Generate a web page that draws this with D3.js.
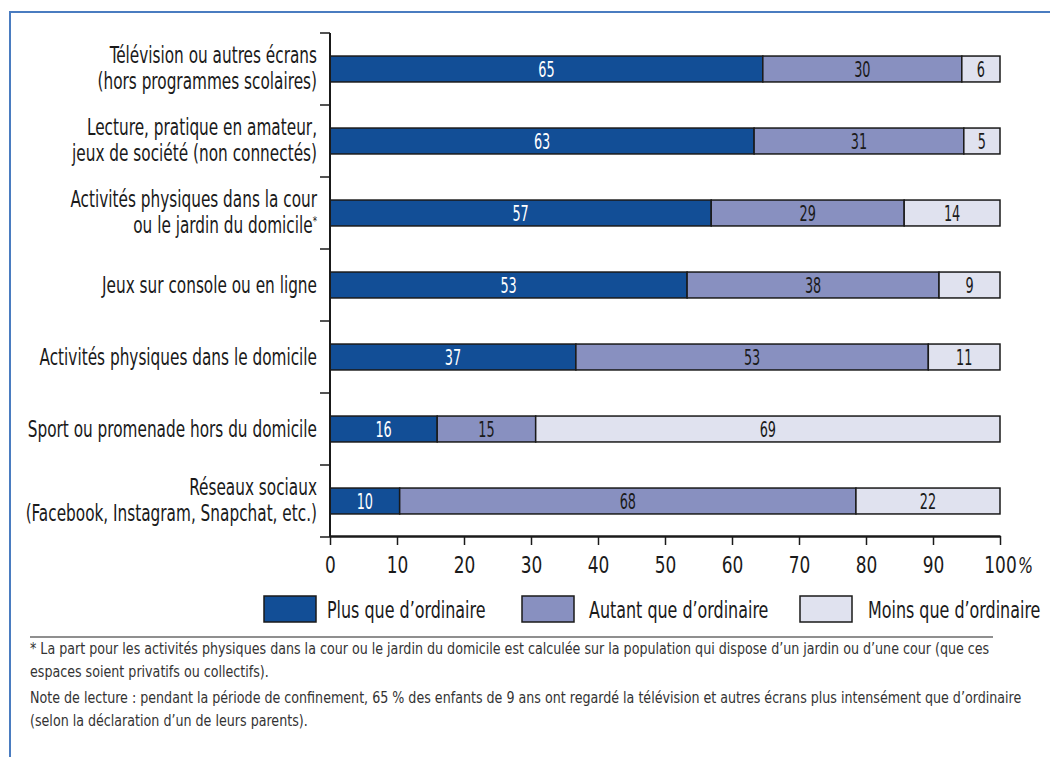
<!DOCTYPE html>
<html><head><meta charset="utf-8">
<script src="https://cdn.jsdelivr.net/npm/d3@7"></script>
<style>
body{margin:0;background:#fff;}
svg text{font-family:"DejaVu Sans Condensed","DejaVu Sans",sans-serif;}
</style></head>
<body><svg id="c" width="1050" height="757"></svg>
<script>
const categories = [
  ["Télévision ou autres écrans","(hors programmes scolaires)"],
  ["Lecture, pratique en amateur,","jeux de société (non connectés)"],
  ["Activités physiques dans la cour","ou le jardin du domicile"],
  ["Jeux sur console ou en ligne"],
  ["Activités physiques dans le domicile"],
  ["Sport ou promenade hors du domicile"],
  ["Réseaux sociaux","(Facebook, Instagram, Snapchat, etc.)"]
];
const starred = [false,false,true,false,false,false,false];
const seriesNames = ["Plus que d’ordinaire","Autant que d’ordinaire","Moins que d’ordinaire"];
const plus   = [64.6, 63.3, 56.9, 53.3, 36.7, 16.0, 10.4];
const autant = [29.7, 31.3, 28.8, 37.6, 52.6, 14.7, 68.1];
const moins  = [5.7, 5.4, 14.3, 9.1, 10.7, 69.3, 21.5];
const xTicks = [0,10,20,30,40,50,60,70,80,90,100];
const notes = [
  "* La part pour les activités physiques dans la cour ou le jardin du domicile est calculée sur la population qui dispose d’un jardin ou d’une cour (que ces",
  "espaces soient privatifs ou collectifs).",
  "Note de lecture : pendant la période de confinement, 65 % des enfants de 9 ans ont regardé la télévision et autres écrans plus intensément que d’ordinaire",
  "(selon la déclaration d’un de leurs parents)."
];
const colors = ["#124e96","#8890c0","#e0e2ef"];
const textColors = ["#ffffff","#1a1a1a","#1a1a1a"];

const svg = d3.select("#c");
// condensed text helper
function ctext(parent, x, y, sx){
  return parent.append("text").attr("transform",`translate(${x},${y}) scale(${sx},1)`);
}
// frame
svg.append("path").attr("d","M10,757 V12 H1050").attr("fill","none").attr("stroke","#4a7cc0").attr("stroke-width",2);

const x = d3.scaleLinear().domain([0,100]).range([330,1000]);
const y = d3.scaleBand().domain(d3.range(categories.length)).range([33,537]).paddingInner(0.64).paddingOuter(0.32);

const rows = categories.map((c,i)=>({i, vals:[plus[i],autant[i],moins[i]]}));
const stackData = d3.stack().keys([0,1,2]).value((d,k)=>d.vals[k])(rows);

const g = svg.append("g");
stackData.forEach((layer,k)=>{
  g.selectAll(null).data(layer).enter().append("rect")
    .attr("x",d=>x(d[0])).attr("width",d=>x(d[1])-x(d[0]))
    .attr("y",(d,i)=>y(i)).attr("height",y.bandwidth())
    .attr("fill",colors[k]).attr("stroke","#1a1a1a").attr("stroke-width",1.5);
  layer.forEach((d,i)=>{
    ctext(g,(x(d[0])+x(d[1]))/2, y(i)+y.bandwidth()/2+7.5, 0.68)
      .attr("text-anchor","middle").attr("font-size",21).attr("fill",textColors[k])
      .text(Math.round(d[1]-d[0]+1e-9));
  });
});

// y axis
const yAxisG = svg.append("g");
yAxisG.append("line").attr("x1",330).attr("x2",330).attr("y1",33).attr("y2",537).attr("stroke","#1a1a1a").attr("stroke-width",2);
d3.range(categories.length+1).forEach(j=>{
  const yy = 33 + j*y.step();
  yAxisG.append("line").attr("x1",320).attr("x2",330).attr("y1",yy).attr("y2",yy).attr("stroke","#1a1a1a").attr("stroke-width",1.5);
});
// category labels
categories.forEach((lines,i)=>{
  const cy = y(i)+y.bandwidth()/2;
  const t = ctext(svg,317,0,0.74).attr("text-anchor","end").attr("font-size",23).attr("fill","#1a1a1a");
  const offs = lines.length===1 ? [8] : [-6,20];
  lines.forEach((ln,j)=>{
    t.append("tspan").attr("x",0).attr("y",cy+offs[j]).text(ln);
    if(starred[i] && j===lines.length-1){
      t.append("tspan").attr("dy",-8).attr("font-size",13).text("*");
    }
  });
});

// x axis
const xa = svg.append("g").attr("transform","translate(0,536)")
  .call(d3.axisBottom(x).tickValues(xTicks).tickSize(9).tickSizeOuter(0).tickFormat(d=>d));
xa.select(".domain").attr("stroke","#1a1a1a").attr("stroke-width",2.5);
xa.selectAll(".tick line").attr("stroke","#1a1a1a").attr("stroke-width",1.5);
xa.selectAll(".tick text").attr("font-size",23).attr("fill","#1a1a1a").attr("dy",null).attr("y",37)
  .attr("transform","scale(0.82,1)")
  .style("font-family",'"DejaVu Sans Condensed","DejaVu Sans",sans-serif');
ctext(svg,1018,573,0.8).attr("font-size",22).attr("font-style","italic").attr("fill","#1a1a1a").text("%");

// legend
const legX = [264,522,800];
const legT = [327,589,868];
seriesNames.forEach((n,k)=>{
  svg.append("rect").attr("x",legX[k]).attr("y",596).attr("width",52).attr("height",26)
    .attr("fill",colors[k]).attr("stroke","#1a1a1a").attr("stroke-width",1.5);
  ctext(svg,legT[k],618,0.77).attr("font-size",23).attr("fill","#1a1a1a").text(n);
});

// separator
svg.append("line").attr("x1",30).attr("x2",993).attr("y1",637).attr("y2",637).attr("stroke","#6a6a6a").attr("stroke-width",1.5);
// notes
const ny = [654,677,703,726];
notes.forEach((n,j)=>{
  ctext(svg,30,ny[j],0.94).attr("font-size",15).attr("fill","#333").text(n);
});
</script></body></html>
